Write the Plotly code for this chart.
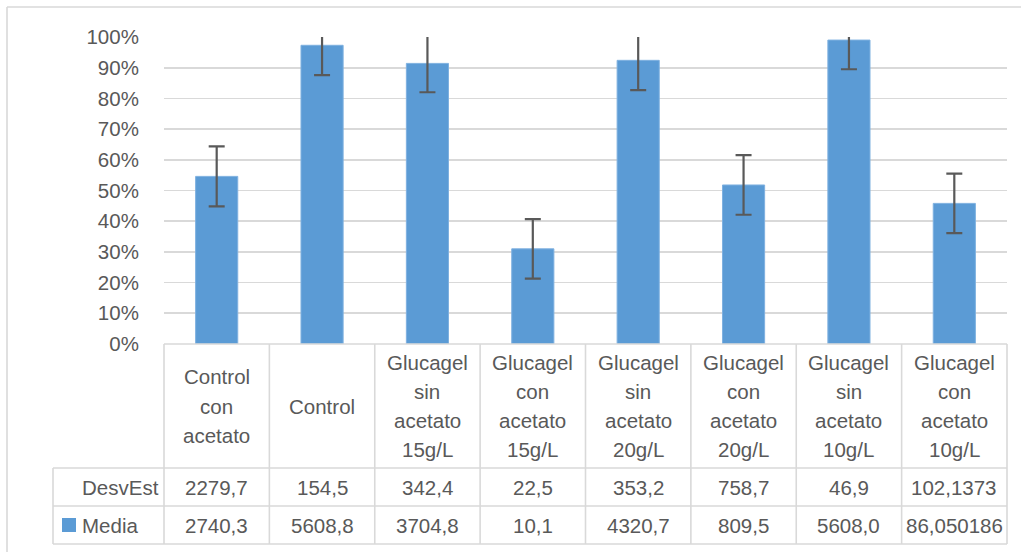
import plotly.graph_objects as go

# ---- data ----
categories = [
    "Control<br>con<br>acetato",
    "Control",
    "Glucagel<br>sin<br>acetato<br>15g/L",
    "Glucagel<br>con<br>acetato<br>15g/L",
    "Glucagel<br>sin<br>acetato<br>20g/L",
    "Glucagel<br>con<br>acetato<br>20g/L",
    "Glucagel<br>sin<br>acetato<br>10g/L",
    "Glucagel<br>con<br>acetato<br>10g/L",
]
media_pct = [0.546, 0.973, 0.914, 0.310, 0.924, 0.518, 0.990, 0.458]
error_pct = [0.098, 0.097, 0.094, 0.097, 0.097, 0.097, 0.095, 0.097]
row_labels = ["DesvEst", "Media"]
desvest_text = ["2279,7", "154,5", "342,4", "22,5", "353,2", "758,7", "46,9", "102,1373"]
media_text = ["2740,3", "5608,8", "3704,8", "10,1", "4320,7", "809,5", "5608,0", "86,050186"]
y_ticks = [i / 10 for i in range(11)]

# ---- layout constants (pixels) ----
W, H = 1021, 552
L, R, T, B = 164, 1007, 37, 344
PW, PH = R - L, B - T
BAR_COLOR = "#5B9BD5"
TEXT_COLOR = "#595959"
LINE_COLOR = "#D9D9D9"
FONT = "Liberation Sans"
FS = 20.5


def px_x(p):
    return (p - L) / PW


def px_y(p):
    return (B - p) / PH


fig = go.Figure()
fig.add_trace(go.Bar(
    x=categories,
    y=media_pct,
    marker=dict(color=BAR_COLOR, line=dict(color="#7FB1E0", width=1)),
    error_y=dict(type="data", array=error_pct, visible=True,
                 color="#595959", thickness=2.2, width=8),
    showlegend=False,
    hoverinfo="skip",
))

shapes = []
annotations = []

# table grid
HDR_BOTTOM, ROW1_BOTTOM, ROW2_BOTTOM = 468, 506, 544
TABLE_LEFT = 53
line = dict(color=LINE_COLOR, width=1.6)
# horizontal lines
shapes.append(dict(type="line", xref="paper", yref="paper", x0=0, x1=1,
                   y0=px_y(B), y1=px_y(B), line=line))
for yy in (HDR_BOTTOM, ROW1_BOTTOM, ROW2_BOTTOM):
    shapes.append(dict(type="line", xref="paper", yref="paper",
                       x0=px_x(TABLE_LEFT), x1=1, y0=px_y(yy), y1=px_y(yy), line=line))
# vertical lines
n = len(categories)
for i in range(n + 1):
    shapes.append(dict(type="line", xref="paper", yref="paper",
                       x0=i / n, x1=i / n, y0=px_y(B), y1=px_y(ROW2_BOTTOM), line=line))
shapes.append(dict(type="line", xref="paper", yref="paper",
                   x0=px_x(TABLE_LEFT), x1=px_x(TABLE_LEFT),
                   y0=px_y(HDR_BOTTOM), y1=px_y(ROW2_BOTTOM), line=line))
# outer chart border (top and left visible)
shapes.append(dict(type="line", xref="paper", yref="paper",
                   x0=px_x(7), x1=px_x(W + 5), y0=px_y(7), y1=px_y(7), line=line))
shapes.append(dict(type="line", xref="paper", yref="paper",
                   x0=px_x(7), x1=px_x(7), y0=px_y(7), y1=px_y(H + 5), line=line))
# legend key
shapes.append(dict(type="rect", xref="paper", yref="paper",
                   x0=px_x(62), x1=px_x(76), y0=px_y(518), y1=px_y(532),
                   fillcolor=BAR_COLOR, line=dict(width=0)))

# header labels (one annotation per line to mimic line spacing)
HDR_CENTER, LINE_SP = 406, 29.3
for i, cat in enumerate(categories):
    parts = cat.split("<br>")
    k = len(parts)
    for j, p in enumerate(parts):
        yy = HDR_CENTER + (j - (k - 1) / 2) * LINE_SP
        annotations.append(dict(x=cat, xref="x", y=px_y(yy), yref="paper",
                                text=p, showarrow=False, xanchor="center",
                                yanchor="middle",
                                font=dict(family=FONT, size=FS, color=TEXT_COLOR)))

# data rows
row_centers = [(HDR_BOTTOM + ROW1_BOTTOM) / 2, (ROW1_BOTTOM + ROW2_BOTTOM) / 2]
for vals, yc in zip([desvest_text, media_text], row_centers):
    for cat, v in zip(categories, vals):
        annotations.append(dict(x=cat, xref="x", y=px_y(yc), yref="paper",
                                text=v, showarrow=False, xanchor="center",
                                yanchor="middle",
                                font=dict(family=FONT, size=FS, color=TEXT_COLOR)))
for lbl, yc in zip(row_labels, row_centers):
    annotations.append(dict(x=px_x(80), xref="paper", y=px_y(yc), yref="paper",
                            text=lbl, showarrow=False, xanchor="left",
                            yanchor="middle",
                            font=dict(family=FONT, size=FS, color=TEXT_COLOR)))

fig.update_layout(
    width=W, height=H,
    margin=dict(l=L, r=W - R, t=T, b=H - B, pad=0),
    paper_bgcolor="white", plot_bgcolor="white",
    bargap=0.6,
    shapes=shapes,
    annotations=annotations,
    font=dict(family=FONT, size=FS, color=TEXT_COLOR),
    xaxis=dict(showticklabels=False, showgrid=False, zeroline=False,
               showline=False, ticks="", fixedrange=True),
    yaxis=dict(range=[0, 1], tickvals=y_ticks, tickformat=".0%",
               showgrid=True, gridcolor=LINE_COLOR, gridwidth=1.6,
               zeroline=False, showline=False, ticks="outside", ticklen=20,
               tickcolor="rgba(0,0,0,0)", fixedrange=True,
               tickfont=dict(family=FONT, size=FS, color=TEXT_COLOR)),
)

fig.write_html(
    "out.html",
    config={"displayModeBar": False, "staticPlot": True},
    post_script="document.body.style.margin='0';document.body.style.overflow='hidden';",
)
